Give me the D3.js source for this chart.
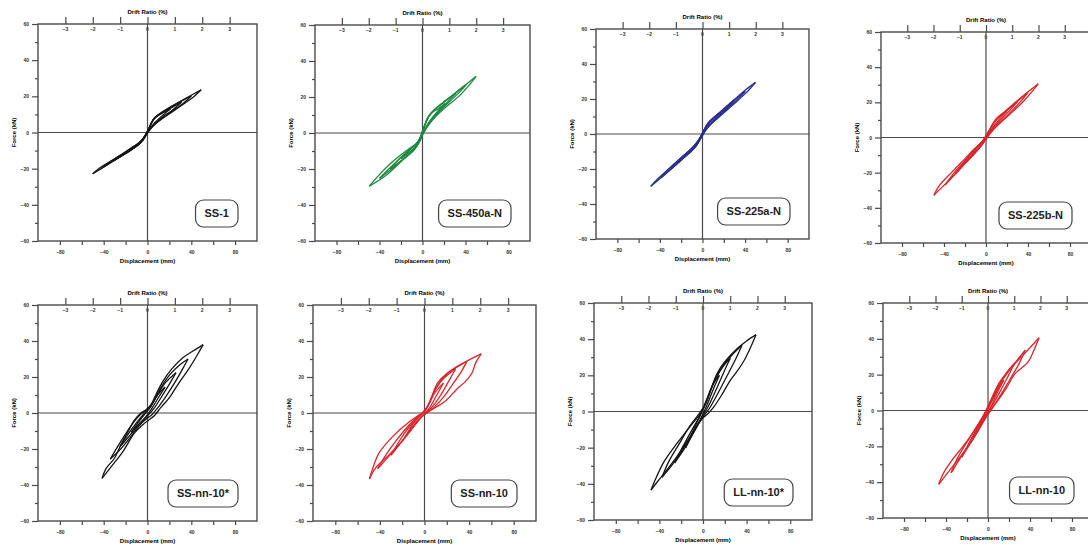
<!DOCTYPE html>
<html>
<head>
<meta charset="utf-8">
<script src="https://cdn.jsdelivr.net/npm/d3@7"></script>
<style>
body { margin: 0; background: #fff; }
svg { display: block; font-family: Arial, "Liberation Sans", sans-serif; }
</style>
</head>
<body>
<svg id="chart" width="1088" height="547"></svg>
<script>
// panel names
var specimens = ["SS-1", "SS-450a-N", "SS-225a-N", "SS-225b-N",
                 "SS-nn-10*", "SS-nn-10", "LL-nn-10*", "LL-nn-10"];

// axis ticks
var dispTicks = [-80, -60, -40, -20, 0, 20, 40, 60, 80];
var dispLabels = [-80, -40, 0, 40, 80];
var forceTicks = [-60, -40, -20, 0, 20, 40, 60];
var forceMinor = [-50, -30, -10, 10, 30, 50];
var driftTicks = [-3, -2, -1, 0, 1, 2, 3];

// hysteresis loops, [displacement mm, force kN]
// each loop: positive peak -> down to negative peak -> back up to positive peak
var loopsSS1 = [
  [[49,23.6],[42,19.6],[30,14.5],[18,9.6],[8,5.2],[3,2.2],[0,-0.3],[-4,-4],[-9,-7.2],[-20,-11.6],[-35,-17.3],[-50,-22.8],
   [-44,-19.8],[-30,-14.6],[-16,-9],[-7,-5.2],[-3,-2.4],[0,0.8],[3,4.6],[7,8.4],[16,12.3],[30,17.2],[42,21.3],[49,23.6]],
  [[40,20.2],[34,16.9],[22,11.5],[10,6.2],[3,2.4],[0,-0.2],[-4,-3.9],[-9,-7],[-22,-12.4],[-32,-15.9],[-40,-18.8],
   [-33,-15.7],[-18,-10],[-7,-5.4],[-2,-1.6],[2,3],[6,7.8],[15,11.8],[28,16.4],[40,20.2]],
  [[31,16.9],[24,13],[12,7.6],[4,3],[0,0],[-4,-4.1],[-12,-8.2],[-22,-12.1],[-30,-15.2],
   [-24,-12.8],[-13,-8.1],[-5,-4.4],[0,0.4],[5,6.9],[14,11],[24,14.4],[31,16.9]],
  [[21,13.1],[14,9.6],[6,5],[0,0.2],[-6,-5.6],[-14,-9.1],[-20,-11.4],
   [-13,-8.3],[-5,-4.2],[1,1.8],[7,8.3],[15,11.2],[21,13.1]]
];
var loopsSS450a = [
  [[49.8,31.5],[44,27],[34,20.5],[22,14.6],[12,9],[6,4.8],[2,1.2],[0,-1],[-4,-6],[-8,-9.6],[-18,-14.8],[-32,-22.6],[-49.5,-29.6],
   [-42,-24.4],[-28,-16],[-14,-9.4],[-6,-6],[-2,-2.6],[1,2],[4,7.6],[9,11.8],[18,16.4],[32,22.6],[42,27.6],[49.8,31.5]],
  [[41,27.2],[35,23],[25,17.4],[14,11],[6,5],[2,1.2],[0,-1.2],[-4,-6.2],[-10,-10.4],[-20,-15.6],[-30,-20.6],[-40,-25.2],
   [-33,-21],[-22,-14.8],[-12,-9.2],[-5,-5.6],[-1,-1.6],[2,4],[6,9.5],[12,13.2],[24,19],[34,24],[41,27.2]],
  [[31,22],[24,17.6],[14,11.6],[6,5.4],[1,0.6],[-3,-5],[-10,-10],[-20,-15.4],[-30,-20],
   [-22,-14.6],[-12,-9.4],[-4,-4.8],[1,2.6],[6,9.4],[14,14.4],[24,19.2],[31,22]],
  [[21,16.4],[14,12],[6,6],[0,-0.5],[-6,-7.6],[-14,-11.4],[-20,-14.2],
   [-12,-9.6],[-4,-4.6],[2,4.4],[8,11],[15,13.6],[21,16.4]]
];
var loopsSS225a = [
  [[49.8,29.5],[44,25.4],[34,19.6],[24,14.2],[14,8.8],[6,4.6],[2,1.4],[-1,-1.6],[-5,-6],[-10,-9.6],[-20,-15],[-32,-21.4],[-48.6,-29.9],
   [-42,-25.6],[-30,-19],[-18,-12.4],[-9,-7.6],[-4,-4.2],[0,0.4],[3,4],[7,7.4],[16,12.2],[28,18.6],[40,25],[49.8,29.5]],
  [[40,24.4],[34,20.6],[22,13.8],[10,7],[3,2.2],[-1,-1.8],[-6,-6.8],[-14,-11.6],[-26,-18.2],[-39,-25],
   [-32,-20.4],[-20,-13.6],[-9,-7.8],[-3,-3.2],[1,1.6],[5,6.2],[12,10],[24,16.6],[40,24.4]],
  [[30,19.4],[22,14.4],[12,8.2],[4,3.2],[-1,-1.8],[-7,-7.6],[-18,-13.4],[-29,-19.4],
   [-20,-13.8],[-10,-8.2],[-3,-2.8],[2,3],[8,8],[18,13],[30,19.4]],
  [[20,14],[12,9],[4,3.6],[-1,-1.6],[-8,-8],[-19,-13.6],
   [-12,-9.6],[-4,-3.8],[2,2.8],[8,7.8],[20,14]]
];
var loopsSS225b = [
  [[49.7,30.5],[44,26.2],[36,20.8],[26,15],[16,9.6],[9,5.8],[3,1.6],[0,-0.8],[-5,-5],[-13,-10],[-24,-17.4],[-36,-24.8],[-49.7,-32.8],
   [-44,-27],[-32,-19.4],[-20,-12],[-12,-7],[-5,-3],[-1,-0.4],[3,4],[9.6,10.5],[18,14.8],[30,21],[41,26.4],[49.7,30.5]],
  [[40,25.6],[32,19.8],[22,13.6],[12,7.8],[4,2.4],[0,-1],[-6,-5.8],[-14,-10.8],[-26,-18.6],[-39,-27],
   [-30,-19.8],[-18,-11.8],[-9,-5.6],[-2,-1.2],[3,3.6],[9,9.6],[18,14.4],[30,20.6],[40,25.6]],
  [[30,20.4],[22,15],[12,8.8],[4,3],[-1,-1.4],[-8,-7],[-18,-13.2],[-29,-20.6],
   [-20,-13.6],[-10,-6.6],[-3,-1.8],[3,3.8],[10,10],[20,15.4],[30,20.4]],
  [[20,15],[12,9.8],[4,3.6],[-2,-2.4],[-10,-8.6],[-19,-14.2],
   [-11,-8],[-3,-2],[3,4],[10,10.6],[20,15]]
];
var loopsSSnn10s = [
  [[50.8,38],[46,32.8],[38,24.8],[28,16.1],[20,8.6],[12.3,3.1],[6.2,-1.5],[1,-4],[-4,-6.4],[-12,-11.2],[-22,-21],[-32,-29],[-41.5,-36.3],
   [-38,-31],[-30,-25],[-24.6,-18],[-18,-10.6],[-12.3,-4.3],[-6,0],[-1,2],[3,4.4],[8,10.6],[14,17.6],[22,24.4],[32,30.6],[42,34.6],[50.8,38]],
  [[37,30],[32,24.4],[24,16],[16,8.4],[9,2.6],[4,-1],[-1,-3.2],[-8,-7.4],[-16,-13.8],[-26,-21],[-34,-25.6],
   [-28,-19.4],[-20,-11.6],[-12,-4.6],[-6,-0.6],[0,2.2],[5,6],[12,14],[20,21],[28,26],[37,30]],
  [[26,22.4],[20,16],[12,8.2],[6,2.6],[0,-1.6],[-7,-6],[-15,-11.6],[-25,-18.6],
   [-18,-12],[-10,-5.4],[-4,-1],[2,2.8],[8,9],[16,16.6],[26,22.4]],
  [[16,14.4],[10,8.6],[4,2.6],[-2,-2.4],[-9,-6.8],[-15,-10.8],
   [-9,-5.6],[-3,-1],[3,3.6],[9,9.8],[16,14.4]]
];
var loopsSSnn10 = [
  [[50.9,32.8],[46,28],[42.6,22.2],[36,17],[30,13.9],[18,6.2],[9,2.8],[3,0.4],[-2,-1.5],[-7,-5],[-13,-9.5],[-19,-14.8],[-31.5,-23.1],[-43.8,-30.5],[-49.4,-36.7],
   [-46,-30],[-40.7,-22.2],[-28.4,-13],[-13,-4.6],[-5,-1.2],[0,0.8],[4,5],[8,11.5],[11.7,16.7],[20,22],[30.2,25.9],[40,29.5],[50.9,32.8]],
  [[38,28.7],[33,23],[26,16.6],[17,8.8],[9,3.4],[3,0.4],[-3,-2.4],[-10,-7.8],[-18,-14],[-30,-22.6],[-42,-31],
   [-36,-24.6],[-26,-15.8],[-14,-6.8],[-6,-2],[0,0.8],[5,6.4],[10,13.6],[18,20.4],[28,25.4],[38,28.7]],
  [[28,24.6],[22,18],[14,9.4],[6,2.8],[0,-0.4],[-7,-5],[-16,-12.4],[-30,-23.4],
   [-22,-15],[-12,-6.4],[-4,-1.4],[2,2.8],[8,11],[16,18.4],[28,24.6]],
  [[17,16.6],[11,10],[4,2.4],[-2,-1.8],[-10,-7.6],[-18,-14],
   [-10,-5.8],[-3,-0.8],[3,4],[9,11],[17,16.6]]
];
var loopsLLnn10s = [
  [[48.6,42.5],[44,36],[38,28.5],[31,22],[25,17.2],[17,9],[9.8,2.4],[4,-1.5],[0,-3.5],[-6,-8],[-14,-16],[-24,-25],[-34,-33],[-42,-39],[-47.7,-43.4],
   [-44,-38],[-36,-28],[-25,-18.5],[-14.7,-10.5],[-6,-4],[-2.4,-1.3],[2,4],[7,12],[12.8,20.9],[20,27.5],[31.2,34.7],[40,39],[48.6,42.5]],
  [[35.8,36.6],[30,29],[22,19.6],[14,10.4],[6,1.8],[0,-3],[-6,-8.6],[-14,-16.6],[-24,-26],[-37.6,-36.4],
   [-32,-28.4],[-22,-18],[-12,-8],[-4,-1.6],[2,4],[8,13.4],[16,23],[26,30.8],[35.8,36.6]],
  [[25,29.4],[19,21.6],[12,12],[5,3],[-1,-3.4],[-8,-11],[-16,-19.6],[-26,-28.4],
   [-19,-20],[-10,-10],[-3,-2.6],[3,5],[10,16],[18,24.6],[25,29.4]],
  [[15,20],[9,11.6],[3,2.6],[-3,-5],[-10,-13],[-16,-20],
   [-9,-10.6],[-2,-1.4],[4,7.6],[10,15.8],[15,20]]
];
var loopsLLnn10 = [
  [[48.6,40.6],[44,34],[38,27],[26,20.7],[18,13],[11.9,7.6],[6,3],[2.5,0.2],[-2,-3.5],[-8,-10],[-16,-17.5],[-24,-24],[-34,-31.5],[-42,-37.5],[-47,-41.2],
   [-42,-34.5],[-34,-27.5],[-24.2,-20.3],[-15,-13],[-8.5,-7.3],[-4,-2.5],[0,2.5],[4,7.5],[10.4,15.1],[18,21],[26,26.3],[36,32.5],[48.6,40.6]],
  [[35.4,33.7],[30,26.6],[22,18.4],[13,9.6],[6,3],[1,-1.4],[-5,-6.8],[-13,-14.4],[-23,-23.4],[-35.1,-34.8],
   [-30,-27.6],[-20,-17.6],[-10,-8.2],[-3,-1.4],[3,5.6],[10,14],[18,21.4],[27,27.6],[35.4,33.7]],
  [[25,26],[19,19],[11,10],[4,2.8],[-1,-2.4],[-8,-9.6],[-16,-17.6],[-25,-26],
   [-18,-18],[-9,-8.4],[-2,-0.8],[4,6],[11,14.4],[18,20.6],[25,26]],
  [[15,17],[9,10],[3,2.4],[-3,-3.6],[-9,-9.6],[-15,-16],
   [-8,-7.8],[-1,-0.4],[5,6.8],[10,12.4],[15,17]]
];
var loops = [loopsSS1, loopsSS450a, loopsSS225a, loopsSS225b,
             loopsSSnn10s, loopsSSnn10, loopsLLnn10s, loopsLLnn10];

// line colour per panel
var colours = ["#161616", "#1c8a3e", "#2c2e8e", "#d8262c",
               "#161616", "#d8262c", "#161616", "#d8262c"];

// plot frames: left, top, width, height
var frames = [
  [38, 24, 219, 217], [315, 25, 215, 216], [596, 29, 213, 210], [881, 32, 210, 211],
  [38, 305, 219, 216], [313, 305, 223, 216], [594, 303, 218, 217], [883, 303, 210, 215]
];

var svg = d3.select("#chart");
var axisCol = "#4a4a4a";

function styleAxis(g) {
    g.select(".domain").remove();
    g.selectAll(".tick line").attr("stroke", axisCol).attr("stroke-width", 1.2);
    g.selectAll(".tick text")
        .attr("fill", "#333")
        .style("font-size", "5px")
        .style("font-weight", "bold");
}

specimens.forEach(function(name, i) {
    var f = frames[i];
    var w = f[2], h = f[3];
    var g = svg.append("g").attr("transform", "translate(" + f[0] + "," + f[1] + ")");

    var x = d3.scaleLinear().domain([-100, 100]).range([0, w]);
    var y = d3.scaleLinear().domain([-60, 60]).range([h, 0]);
    // 1 % drift = 25 mm
    var drift = d3.scaleLinear().domain([-4, 4]).range([0, w]);

    // axes
    g.append("g")
        .call(d3.axisLeft(y).tickValues(forceTicks).tickSize(6).tickPadding(3)
            .tickFormat(d3.format("d")))
        .call(styleAxis);
    g.append("g")
        .call(d3.axisLeft(y).tickValues(forceMinor).tickSize(3).tickFormat(""))
        .call(styleAxis);
    g.append("g")
        .attr("transform", "translate(0," + h + ")")
        .call(d3.axisBottom(x).tickValues(dispTicks).tickSize(4).tickPadding(5)
            .tickFormat(function(d) { return dispLabels.indexOf(d) >= 0 ? d3.format("d")(d) : ""; }))
        .call(styleAxis);
    g.append("g")
        .call(d3.axisTop(drift).tickValues(driftTicks).tickSize(7).tickFormat(""))
        .call(styleAxis);
    // drift labels sit just inside the top edge
    g.selectAll(".drift-lab")
        .data(driftTicks)
        .enter().append("text")
        .attr("x", function(d) { return drift(d); })
        .attr("y", 7)
        .attr("text-anchor", "middle")
        .attr("fill", "#333")
        .style("font-size", "5px")
        .style("font-weight", "bold")
        .text(d3.format("d"));

    // frame and zero lines
    g.append("rect")
        .attr("width", w).attr("height", h)
        .attr("fill", "none").attr("stroke", axisCol).attr("stroke-width", 1.4);
    g.append("line")
        .attr("x1", x(0)).attr("x2", x(0)).attr("y1", 0).attr("y2", h)
        .attr("stroke", axisCol).attr("stroke-width", 1.2);
    g.append("line")
        .attr("x1", 0).attr("x2", w).attr("y1", y(0)).attr("y2", y(0))
        .attr("stroke", axisCol).attr("stroke-width", 1.2);

    // axis titles
    g.append("text")
        .attr("x", x(0)).attr("y", -10)
        .attr("text-anchor", "middle")
        .style("font-size", "6px").style("font-weight", "bold")
        .text("Drift Ratio (%)");
    g.append("text")
        .attr("x", x(0)).attr("y", h + 22)
        .attr("text-anchor", "middle")
        .style("font-size", "6px").style("font-weight", "bold")
        .text("Displacement (mm)");
    g.append("text")
        .attr("transform", "translate(-22," + y(0) + ") rotate(-90)")
        .attr("text-anchor", "middle")
        .style("font-size", "6px").style("font-weight", "bold")
        .text("Force (kN)");

    // hysteresis loops, drawn as two branches so the peaks stay sharp
    var line = d3.line()
        .x(function(d) { return x(d[0]); })
        .y(function(d) { return y(d[1]); })
        .curve(d3.curveCatmullRom.alpha(0.5));
    loops[i].forEach(function(loop) {
        var k = d3.minIndex(loop, function(d) { return d[0]; });
        [loop.slice(0, k + 1), loop.slice(k)].forEach(function(branch) {
            g.append("path")
                .datum(branch)
                .attr("d", line)
                .attr("fill", "none")
                .attr("stroke", colours[i])
                .attr("stroke-width", 1.3)
                .attr("stroke-linejoin", "round");
        });
    });

    // specimen tag
    var tag = g.append("g");
    var txt = tag.append("text")
        .attr("text-anchor", "middle")
        .attr("dy", "0.35em")
        .style("font-family", "'Liberation Sans Narrow', 'Arial Narrow', sans-serif")
        .style("font-size", "11px").style("font-weight", "bold")
        .attr("fill", "#222")
        .text(name);
    var tw = txt.node().getComputedTextLength() + 18;
    var th = 27;
    tag.attr("transform", "translate(" + (w - 19 - tw / 2) + "," + (h - 14 - th / 2) + ")");
    tag.insert("rect", "text")
        .attr("x", -tw / 2).attr("y", -th / 2)
        .attr("width", tw).attr("height", th)
        .attr("rx", 8)
        .attr("fill", "#fff")
        .attr("stroke", "#444").attr("stroke-width", 1.2);
});
</script>
</body>
</html>
